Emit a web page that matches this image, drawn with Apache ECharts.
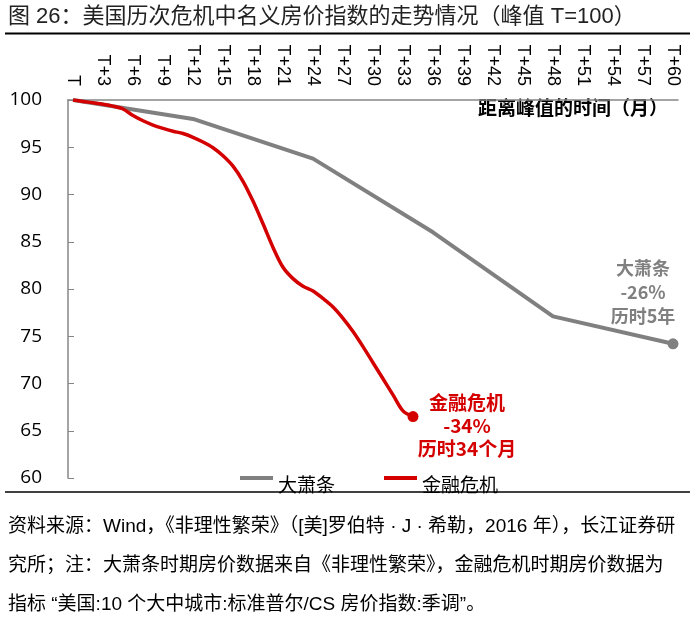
<!DOCTYPE html>
<html>
<head>
<meta charset="utf-8">
<script src="https://cdn.jsdelivr.net/npm/echarts@6/dist/echarts.min.js"></script>
<style>
  html, body { margin: 0; padding: 0; background: #fff; }
  #main { width: 700px; height: 628px; }
</style>
</head>
<body>
<div id="main"></div>
<script type="text/javascript">
    // 横轴：距离峰值的月份 T ~ T+60
    var months = [];
    for (var i = 0; i <= 60; i++) {
        months.push(i === 0 ? 'T' : 'T+' + i);
    }

    // 大萧条：年度数据点（月份, 指数）
    var depressionMonths = [0, 12, 24, 36, 48, 60];
    var depressionValues = [100, 98.0, 93.8, 86.0, 77.1, 74.2];

    // 金融危机：月度数据 T ~ T+34
    var crisisValues = [
        100, 99.85, 99.7, 99.55, 99.35, 99.05, 98.35, 97.8, 97.35, 97.0,
        96.7, 96.45, 96.05, 95.55, 94.95, 94.1, 93.0, 91.4, 89.3, 86.9,
        84.4, 82.3, 81.1, 80.3, 79.8, 79.0, 78.1, 76.9, 75.5, 73.9,
        72.2, 70.5, 68.8, 67.1, 66.5
    ];

    var seriesNames = ['大萧条', '金融危机'];
    var grey = '#808080';
    var red = '#d40000';
    var cjk = '"Liberation Sans", Arial, "Noto Sans CJK SC", sans-serif';

    var depressionData = depressionMonths.map(function (m, k) {
        var item = { value: [m, depressionValues[k]] };
        if (k === depressionMonths.length - 1) {
            item.symbol = 'circle';
            item.symbolSize = 11;
        }
        return item;
    });
    var crisisData = crisisValues.map(function (v, k) {
        var item = { value: v };
        if (k === crisisValues.length - 1) {
            item.symbol = 'circle';
            item.symbolSize = 11;
        }
        return item;
    });

    var myChart = echarts.init(document.getElementById('main'));
    var option = {
        animation: false,
        backgroundColor: '#fff',
        grid: { left: 68, right: 22, top: 100, bottom: 150, containLabel: false },
        legend: {
            data: seriesNames,
            left: 240,
            top: 475,
            padding: 0,
            itemWidth: 33,
            itemHeight: 4,
            itemGap: 49,
            icon: 'rect',
            formatter: '{a|{name}}',
            textStyle: {
                rich: {
                    a: { fontSize: 19, color: '#000', fontFamily: '"Noto Sans CJK SC", sans-serif', padding: [13, 0, 0, 0] }
                }
            }
        },
        xAxis: {
            type: 'category',
            position: 'top',
            boundaryGap: true,
            data: months,
            axisLine: { lineStyle: { color: '#868686', width: 1.5 } },
            axisTick: { interval: 0, length: 6, lineStyle: { color: '#868686' } },
            axisLabel: {
                interval: 2,
                rotate: 90,
                margin: 14,
                fontSize: 18,
                color: '#000',
                fontFamily: '"Liberation Sans", Arial, sans-serif'
            },
            splitLine: { show: false }
        },
        yAxis: {
            type: 'value',
            min: 60,
            max: 100,
            interval: 5,
            axisLine: { show: true, lineStyle: { color: '#868686', width: 1.5 } },
            axisTick: { show: true, inside: true, length: 6, lineStyle: { color: '#868686' } },
            axisLabel: { fontSize: 19, color: '#000', margin: 26, fontFamily: '"Open Sans", "Noto Sans", sans-serif' },
            splitLine: { show: false }
        },
        series: [
            {
                name: seriesNames[0],
                type: 'line',
                data: depressionData,
                symbol: 'none',
                showSymbol: true,
                lineStyle: { color: grey, width: 4 },
                itemStyle: { color: grey },
                z: 2
            },
            {
                name: seriesNames[1],
                type: 'line',
                data: crisisData,
                smooth: 0.3,
                symbol: 'none',
                showSymbol: true,
                lineStyle: { color: red, width: 3.5 },
                itemStyle: { color: red },
                z: 3
            }
        ],
        graphic: [
            {
                type: 'text', left: 8, top: 6,
                style: { text: '图 26：美国历次危机中名义房价指数的走势情况（峰值 T=100）', fontSize: 22, fill: '#222', fontFamily: cjk }
            },
            { type: 'line', shape: { x1: 5, y1: 33.5, x2: 690, y2: 33.5 }, style: { stroke: '#000', lineWidth: 2 } },
            {
                type: 'text', left: 478, top: 98,
                style: { text: '距离峰值的时间（月）', fontSize: 19, fontWeight: 'bold', fill: '#000', fontFamily: '"Noto Sans CJK SC", sans-serif' }
            },
            {
                type: 'text', x: 643, y: 256,
                style: { text: '大萧条\n-26%\n历时5年', fontSize: 18, lineHeight: 24, fontWeight: 'bold', fill: grey, align: 'center', fontFamily: '"Noto Sans CJK SC", sans-serif' }
            },
            {
                type: 'text', x: 467, y: 391,
                style: { text: '金融危机\n-34%\n历时34个月', fontSize: 19, lineHeight: 23, fontWeight: 'bold', fill: red, align: 'center', fontFamily: '"Noto Sans CJK SC", sans-serif' }
            },
            { type: 'line', shape: { x1: 5, y1: 492, x2: 690, y2: 492 }, style: { stroke: '#000', lineWidth: 1.5 }, z: 100 },
            {
                type: 'text', left: 8, top: 507,
                style: {
                    text: '资料来源：Wind，《非理性繁荣》（[美]罗伯特 · J · 希勒，2016 年），长江证券研\n究所；注：大萧条时期房价数据来自《非理性繁荣》，金融危机时期房价数据为\n指标 “美国:10 个大中城市:标准普尔/CS 房价指数:季调”。',
                    fontSize: 19, lineHeight: 39, fill: '#000', fontFamily: cjk
                }
            }
        ]
    };
    myChart.setOption(option);
</script>
</body>
</html>
